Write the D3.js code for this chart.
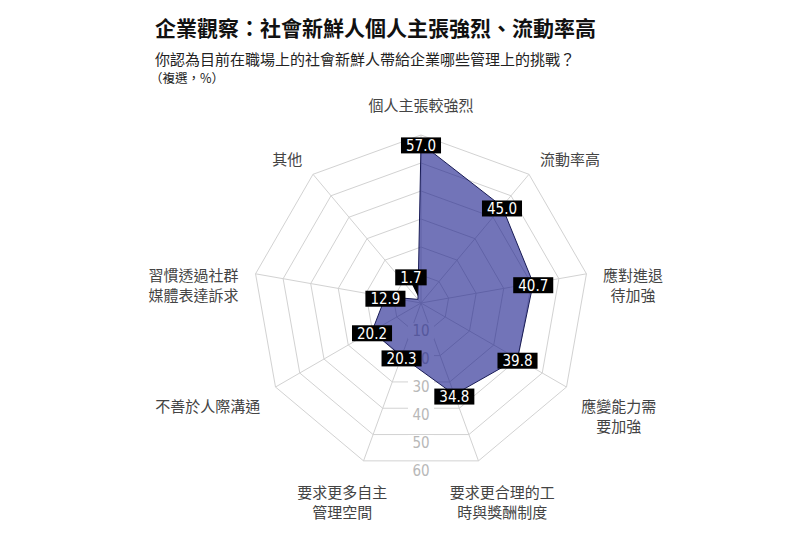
<!DOCTYPE html>
<meta charset="utf-8">
<style>
  body { margin: 0; background: #fff; }
  svg text { font-family: "Noto Sans CJK TC", "Noto Sans", sans-serif; }
  .num { font-family: "DejaVu Sans Condensed", "Roboto", sans-serif; }
</style>
<script src="https://d3js.org/d3.v7.min.js"></script>
<div id="chart"></div>
<script>
// categories (split into display lines), values and ring ticks
var categories = [
  ["個人主張較強烈"],
  ["流動率高"],
  ["應對進退", "待加強"],
  ["應變能力需", "要加強"],
  ["要求更合理的工", "時與獎酬制度"],
  ["要求更多自主", "管理空間"],
  ["不善於人際溝通"],
  ["習慣透過社群", "媒體表達訴求"],
  ["其他"]
];
var values = [57.0, 45.0, 40.7, 39.8, 34.8, 20.3, 20.2, 12.9, 1.7];
var ticks = [10, 20, 30, 40, 50, 60];

var width = 810, height = 543;
var cx = 421, cy = 303, R = 168;

var svg = d3.select("#chart")
  .append("svg")
    .attr("width", width)
    .attr("height", height);

// titles
svg.append("text")
  .attr("x", 155).attr("y", 36)
  .attr("font-size", 21).attr("font-weight", "bold").attr("fill", "#111")
  .text("企業觀察：社會新鮮人個人主張強烈、流動率高");
svg.append("text")
  .attr("x", 155).attr("y", 65)
  .attr("font-size", 15).attr("fill", "#222")
  .text("你認為目前在職場上的社會新鮮人帶給企業哪些管理上的挑戰？");
svg.append("text")
  .attr("x", 150).attr("y", 83)
  .attr("font-size", 12.5).attr("fill", "#222")
  .text("（複選，%）");

var n = categories.length;
var angle = d3.scaleLinear().domain([0, n]).range([0, 2 * Math.PI]);
var r = d3.scaleLinear().domain([0, 60]).range([0, R]);

var g = svg.append("g").attr("transform", "translate(" + cx + "," + cy + ")");

function px(i, rad) { return Math.sin(angle(i)) * rad; }
function py(i, rad) { return -Math.cos(angle(i)) * rad; }

// rings
g.selectAll(".ring")
  .data(ticks)
  .enter()
  .append("polygon")
    .attr("points", function(t) {
      return d3.range(n).map(function(i) { return px(i, r(t)) + "," + py(i, r(t)); }).join(" ");
    })
    .attr("fill", "none")
    .attr("stroke", "#d2d2d2")
    .attr("stroke-width", 1);

// spokes
g.selectAll(".spoke")
  .data(d3.range(n))
  .enter()
  .append("line")
    .attr("x1", 0).attr("y1", 0)
    .attr("x2", function(i) { return px(i, R); })
    .attr("y2", function(i) { return py(i, R); })
    .attr("stroke", "#d2d2d2")
    .attr("stroke-width", 1);

// ring tick labels (down the middle)
var tg = g.selectAll(".tick")
  .data(ticks)
  .enter()
  .append("g")
    .attr("transform", function(t) { return "translate(0," + r(t) + ")"; });
tg.append("rect")
  .attr("x", -13).attr("y", -8).attr("width", 26).attr("height", 16)
  .attr("fill", "#fff");
tg.append("text")
  .attr("class", "num")
  .attr("text-anchor", "middle")
  .attr("dy", "0.36em")
  .attr("font-size", 15)
  .attr("fill", "#b8b8b8")
  .text(function(t) { return t; });

// data polygon
var radar = d3.lineRadial()
  .angle(function(d, i) { return angle(i); })
  .radius(function(d) { return r(d); })
  .curve(d3.curveLinearClosed);

g.append("path")
  .datum(values)
  .attr("d", radar)
  .attr("fill", "#141789")
  .attr("fill-opacity", 0.6)
  .attr("stroke", "#181b55")
  .attr("stroke-width", 1);

// value labels
values.forEach(function(v, i) {
  var x = px(i, r(v)), y = py(i, r(v));
  var small = v < 5;
  var lx = small ? x - 7 : x, ly = small ? y - 22 : y + 2;
  var lg = g.append("g").attr("transform", "translate(" + lx + "," + ly + ")");
  var rect = lg.append("rect").attr("fill", "#000");
  var txt = lg.append("text")
    .attr("class", "num")
    .attr("text-anchor", "middle")
    .attr("dy", "0.36em")
    .attr("font-size", 15)
    .attr("fill", "#fff")
    .text(v.toFixed(1));
  var w = txt.node().getComputedTextLength() + 10;
  rect.attr("x", -w / 2).attr("y", -8).attr("width", w).attr("height", 16);
  if (small) {
    lg.append("path")
      .attr("d", "M1,7 L7,7 L7,19 Z")
      .attr("fill", "#000");
  }
});

// category labels
categories.forEach(function(lines, i) {
  var s = Math.sin(angle(i)), c = Math.cos(angle(i));
  var rx = s * (R + 16), ry = -c * (R + 16);
  var longest = d3.max(lines, function(l) { return l.length; });
  var halfW = longest * 15.4 / 2;
  var x = Math.abs(s) > 0.5 ? rx + Math.sign(s) * halfW : rx + s * halfW;
  var y0 = ry + (c > 0.9 ? -13 : 6 - 11 * c);
  var t = svg.append("text")
    .attr("text-anchor", "middle")
    .attr("font-size", 15)
    .attr("fill", "#444");
  lines.forEach(function(l, k) {
    t.append("tspan")
      .attr("x", cx + x)
      .attr("y", cy + y0 + k * 20)
      .attr("dy", "0.36em")
      .text(l);
  });
});
</script>
